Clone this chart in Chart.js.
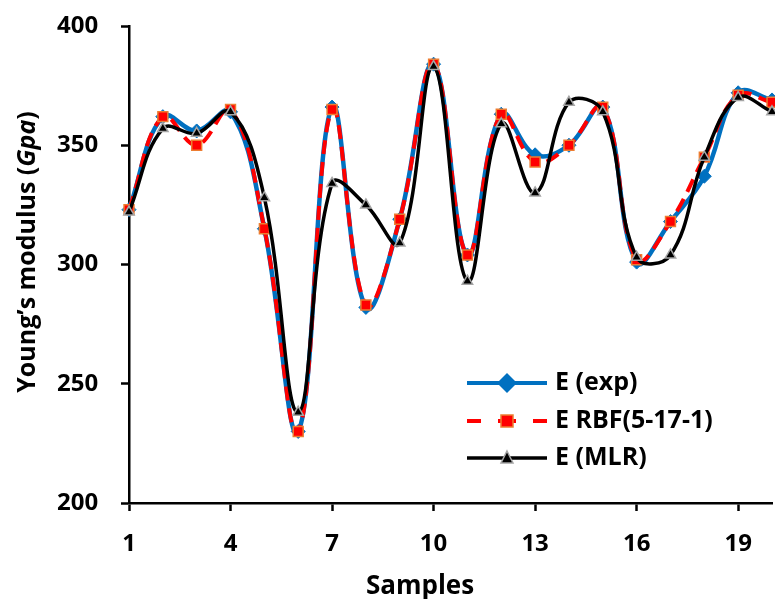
<!DOCTYPE html>
<html>
<head>
<meta charset="utf-8">
<script src="https://cdn.jsdelivr.net/npm/chart.js@4"></script>
<style>
html,body{margin:0;padding:0;background:#fff;}
#wrap{width:775px;height:599px;position:relative;}
</style>
</head>
<body>
<div id="wrap"><canvas id="c" width="775" height="599"></canvas></div>
<script>
const samples = [1,2,3,4,5,6,7,8,9,10,11,12,13,14,15,16,17,18,19,20];
const eExp = [323, 362, 356, 364, 315, 230, 366, 282, 319, 384, 304, 363, 346, 350, 366, 301, 318, 337, 372, 369];
const eRbf = [323, 362, 350, 365, 315, 230, 365, 283, 319, 384, 304, 363, 343, 350, 366, 302, 318, 345, 371, 368];
const eMlr = [322, 357, 355, 364, 328, 238, 334, 325, 309, 383, 293, 359, 330, 368, 364, 303, 304, 345, 370, 364];
const seriesNames = ['E (exp)', 'E RBF(5-17-1)', 'E (MLR)'];
const yTitleParts = ['Young\u2019s modulus (', 'Gpa', ')'];
const xTitle = 'Samples';

const FONT = '"Open Sans", "Noto Sans", sans-serif';

const legendPlugin = {
  id: 'customLegend',
  afterDraw(chart) {
    const ctx = chart.ctx;
    ctx.save();
    const x0 = 467, x1 = 547, mx = 507, tx = 555;
    const ys = [383, 421, 458];
    // exp
    ctx.lineWidth = 4; ctx.strokeStyle = '#0070C0'; ctx.setLineDash([]);
    ctx.beginPath(); ctx.moveTo(x0, ys[0]); ctx.lineTo(x1, ys[0]); ctx.stroke();
    ctx.fillStyle = '#0070C0';
    ctx.beginPath(); ctx.moveTo(mx, ys[0]-10); ctx.lineTo(mx+10, ys[0]); ctx.lineTo(mx, ys[0]+10); ctx.lineTo(mx-10, ys[0]); ctx.closePath(); ctx.fill();
    // rbf
    ctx.strokeStyle = '#FF0000'; ctx.lineWidth = 4;
    ctx.beginPath(); ctx.moveTo(x0, ys[1]); ctx.lineTo(x0+14, ys[1]); ctx.stroke();
    ctx.beginPath(); ctx.moveTo(mx-9, ys[1]); ctx.lineTo(mx+9, ys[1]); ctx.stroke();
    ctx.beginPath(); ctx.moveTo(x1-14, ys[1]); ctx.lineTo(x1, ys[1]); ctx.stroke();
    ctx.fillStyle = '#FF0000'; ctx.strokeStyle = '#ED7D31'; ctx.lineWidth = 1.5;
    ctx.fillRect(mx-6, ys[1]-6, 12, 12); ctx.strokeRect(mx-6, ys[1]-6, 12, 12);
    // mlr
    ctx.strokeStyle = '#000'; ctx.lineWidth = 3.5;
    ctx.beginPath(); ctx.moveTo(x0, ys[2]); ctx.lineTo(x1, ys[2]); ctx.stroke();
    ctx.fillStyle = '#000'; ctx.strokeStyle = '#A5A5A5'; ctx.lineWidth = 1.5;
    ctx.beginPath(); ctx.moveTo(mx, ys[2]-7); ctx.lineTo(mx+6, ys[2]+5); ctx.lineTo(mx-6, ys[2]+5); ctx.closePath(); ctx.fill(); ctx.stroke();
    // texts
    ctx.fillStyle = '#000'; ctx.font = 'bold 25px ' + FONT; ctx.textBaseline = 'middle'; ctx.textAlign = 'left';
    seriesNames.forEach((n, i) => ctx.fillText(n, tx, ys[i]));
    // x title
    ctx.font = 'bold 26px ' + FONT; ctx.textAlign = 'center'; ctx.textBaseline = 'alphabetic';
    ctx.fillText(xTitle, 420, 594);
    // y title with italic part
    ctx.textAlign = 'left'; ctx.textBaseline = 'middle';
    ctx.translate(28, 252); ctx.rotate(-Math.PI/2);
    const fonts = ['bold 25px ' + FONT, 'italic bold 25px ' + FONT, 'bold 25px ' + FONT];
    let widths = yTitleParts.map((p, i) => { ctx.font = fonts[i]; return ctx.measureText(p).width; });
    let total = widths.reduce((a,b)=>a+b,0);
    let cx = -total/2;
    yTitleParts.forEach((p, i) => { ctx.font = fonts[i]; ctx.fillText(p, cx, 0); cx += widths[i]; });
    ctx.restore();
  }
};

new Chart(document.getElementById('c'), {
  type: 'line',
  data: {
    labels: samples,
    datasets: [
      {
        label: seriesNames[0], data: eExp, order: 3,
        borderColor: '#0070C0', borderWidth: 4.5, tension: 0.4,
        pointStyle: 'rectRot', pointRadius: 7, pointBackgroundColor: '#0070C0', pointBorderColor: '#0070C0', pointBorderWidth: 1
      },
      {
        label: seriesNames[1], data: eRbf, order: 2,
        borderColor: '#FF0000', borderWidth: 4, borderDash: [14, 8], tension: 0.4,
        pointStyle: 'rect', pointRadius: 7, pointBackgroundColor: '#FF0000', pointBorderColor: '#ED7D31', pointBorderWidth: 1.5
      },
      {
        label: seriesNames[2], data: eMlr, order: 1,
        borderColor: '#000000', borderWidth: 3.5, tension: 0.4,
        pointStyle: 'triangle', pointRadius: 6, pointBackgroundColor: '#000000', pointBorderColor: '#A5A5A5', pointBorderWidth: 1.5
      }
    ]
  },
  options: {
    responsive: false,
    animation: false,
    devicePixelRatio: 1,
    layout: { autoPadding: false, padding: { top: 26, right: 3, left: 57, bottom: 0 } },
    plugins: { legend: { display: false }, tooltip: { enabled: false } },
    scales: {
      x: {
        type: 'category',
        offset: false,
        border: { display: true, color: '#000', width: 2.5 },
        grid: { display: true, drawOnChartArea: false, tickLength: 8, tickWidth: 2.5,
          tickColor: (c) => (c.index % 3 === 0 ? '#000' : 'rgba(0,0,0,0)') },
        ticks: {
          autoSkip: false, maxRotation: 0, minRotation: 0, padding: 0, color: '#000',
          font: { family: FONT, size: 24, weight: 'bold', lineHeight: 2.75 },
          callback: function(v, i) { return i % 3 === 0 ? this.getLabelForValue(v) : ''; }
        },
        title: { display: false },
        afterFit: (s) => { s.height = 96; }
      },
      y: {
        min: 200, max: 400,
        border: { display: true, color: '#000', width: 2.5 },
        grid: { display: true, drawOnChartArea: false, tickLength: 8, tickWidth: 2.5, tickColor: '#000' },
        ticks: { stepSize: 50, padding: 0, crossAlign: 'far', color: '#000', font: { family: FONT, size: 24, weight: 'bold' } },
        afterFit: (s) => { s.width = 72; }
      }
    }
  },
  plugins: [legendPlugin]
});
</script>
</body>
</html>
